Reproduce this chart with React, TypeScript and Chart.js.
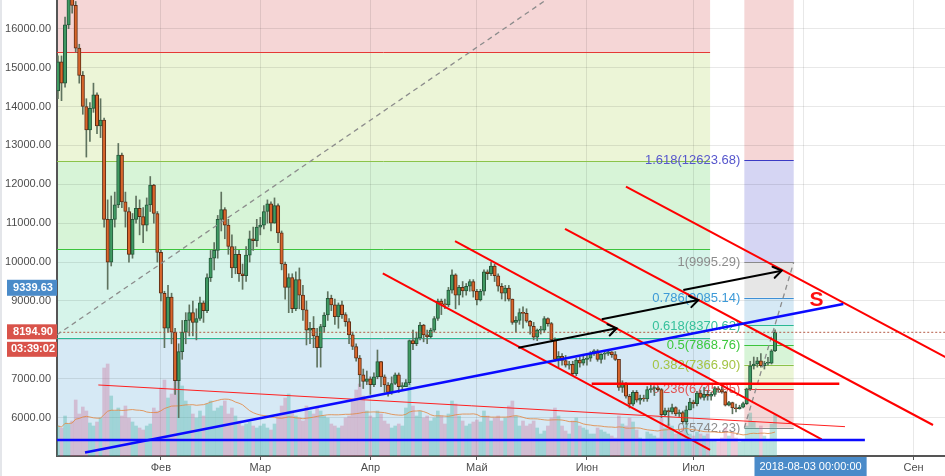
import React, { useEffect, useRef } from 'react';
import { Chart, registerables } from 'chart.js';

Chart.register(...registerables);
Chart.defaults.font.family = "'Liberation Sans', Arial, sans-serif";

// day index: 0 = 2018-01-01
const FIRST_DAY = 2;
const FIRST_OPEN = 14400;

const closes = [
  15150, 14600, 16100, 17000, 16600, 15500, 14800, 14000, 13400, 13950,
  14300, 13500, 13650, 11100, 10000, 11100, 11470, 12750, 11550, 11300,
  10200, 11100, 11380, 11170, 10950, 11470, 11980, 11250, 10250, 9200,
  8300, 9100, 8200, 6950, 7700, 8200, 8500, 8700, 8450, 8550,
  8950, 8750, 9600, 10100, 10300, 11100, 11350, 10950, 10400, 9850,
  10200, 9700, 9650, 10180, 10600, 10550, 10900, 10950, 11300, 11500,
  11000, 11450, 10750, 9950, 9350, 9600, 8800, 9550, 9150, 8770,
  8250, 8300, 8100, 7800, 8340, 8640, 9070, 8900, 8600, 8900,
  8650, 8470, 8130, 7830, 7530, 7100, 6930, 7000, 6850, 7050,
  7440, 7050, 6840, 6650, 6880, 7100, 6800, 6800, 6900, 7980,
  7900, 8050, 8380, 8130, 8080, 8250, 8550, 9000, 8920, 8900,
  9280, 9670, 9150, 9350, 9260, 9380, 9500, 9250, 9030, 9250,
  9750, 9700, 9900, 9650, 9380, 9200, 9330, 9050, 8450, 8500,
  8700, 8680, 8480, 8350, 8070, 8250, 8250, 8550, 8420, 8000,
  7500, 7580, 7470, 7350, 7370, 7130, 7480, 7400, 7500, 7530,
  7650, 7720, 7500, 7630, 7650, 7690, 7620, 7500, 6780, 6880,
  6550, 6350, 6650, 6450, 6500, 6480, 6720, 6750, 6770, 6720,
  6080, 6180, 6150, 6260, 6100, 6130, 5900, 6200, 6400, 6360,
  6630, 6520, 6600, 6550, 6600, 6750, 6720, 6660, 6320, 6390,
  6250, 6230, 6270, 6360, 6740, 7330, 7380, 7460, 7340, 7400,
  7400, 7720, 8195,
];

const highs = [
  15300, 15300, 16300, 17300, 17200, 16700, 15600, 14900, 14200, 14100,
  14600, 14350, 14200, 13700, 11600, 11700, 11800, 13050, 12800, 11800,
  11400, 11250, 11700, 11600, 11400, 11650, 12200, 12000, 11300, 10300,
  9250, 9400, 9200, 8300, 7900, 8500, 8700, 8900, 9000, 8800,
  9100, 9000, 9700, 10300, 10500, 11200, 11800, 11400, 11100, 10700,
  10400, 10300, 9950, 10400, 10800, 10900, 11100, 11150, 11450, 11600,
  11550, 11650, 11500, 10800, 10000, 9700, 9700, 9750, 9850, 9400,
  9000, 8450, 8600, 8300, 8400, 8700, 9240, 9150, 9050, 8950,
  9000, 8700, 8550, 8200, 7900, 7600, 7250, 7200, 7050, 7150,
  7740, 7450, 7100, 6900, 7050, 7150, 7150, 6900, 6980, 8000,
  8250, 8200, 8450, 8400, 8250, 8300, 8600, 9050, 9050, 9050,
  9350, 9800, 9700, 9400, 9500, 9450, 9550, 9550, 9300, 9300,
  9800, 9800, 10000, 9950, 9700, 9450, 9400, 9400, 9050, 8600,
  8800, 8850, 8800, 8500, 8450, 8280, 8350, 8600, 8570, 8450,
  8050, 7700, 7650, 7600, 7450, 7450, 7530, 7550, 7600, 7600,
  7700, 7750, 7750, 7650, 7700, 7750, 7700, 7700, 7500, 6950,
  6900, 6600, 6700, 6700, 6580, 6580, 6800, 6850, 6800, 6800,
  6750, 6250, 6250, 6350, 6280, 6200, 6170, 6300, 6500, 6450,
  6680, 6700, 6780, 6700, 6650, 6800, 6800, 6800, 6680, 6420,
  6400, 6350, 6320, 6400, 6760, 7450, 7560, 7550, 7650, 7450,
  7550, 7750, 8260,
];

const lows = [
  14200, 14150, 14500, 16000, 16400, 15400, 14600, 13800, 12700, 13100,
  13850, 13300, 13200, 10900, 9300, 9900, 10900, 11400, 11400, 10900,
  10000, 10100, 11000, 10700, 10500, 10800, 11300, 11000, 10000, 9000,
  7800, 8200, 7900, 6600, 6000, 7500, 7900, 8100, 8100, 8000,
  8500, 8450, 8700, 9500, 9800, 10100, 10800, 10600, 10200, 9600,
  9700, 9500, 9300, 9500, 10000, 10300, 10400, 10700, 10850, 11000,
  10800, 11000, 10500, 9800, 9050, 8700, 8700, 8750, 8800, 8500,
  7870, 7900, 7800, 7300, 7300, 8200, 8500, 8750, 8400, 8300,
  8550, 8350, 7900, 7750, 7450, 6800, 6750, 6850, 6600, 6800,
  7000, 6800, 6650, 6550, 6600, 6850, 6650, 6700, 6800, 6850,
  7750, 7850, 8000, 7950, 7900, 8050, 8200, 8500, 8650, 8800,
  8850, 9200, 8800, 8900, 9100, 9150, 9250, 9100, 8900, 9000,
  9150, 9550, 9650, 9500, 9250, 9050, 9000, 9000, 8400, 8200,
  8400, 8300, 8450, 8150, 8000, 7980, 8150, 8200, 8350, 7950,
  7450, 7300, 7350, 7300, 7250, 7100, 7080, 7300, 7350, 7350,
  7450, 7600, 7450, 7400, 7500, 7600, 7550, 7470, 6700, 6650,
  6500, 6250, 6300, 6400, 6350, 6420, 6420, 6650, 6570, 6680,
  6000, 6050, 5800, 6100, 6050, 6030, 5850, 5830, 6200, 6250,
  6300, 6480, 6450, 6450, 6450, 6550, 6650, 6630, 6300, 6300,
  6100, 6150, 6220, 6250, 6340, 6700, 7250, 7300, 7300, 7250,
  7350, 7380, 7700,
];

// volume, thousands
const volumesK = [
  30, 28, 40, 32, 35, 56, 42, 49, 45, 33, 30, 34, 38,
  88, 92, 60, 45, 48, 40, 50,
  38, 34, 30, 28, 26, 30, 32, 48, 45,
  68, 76, 58, 62, 91, 93,
  70, 55, 50, 42, 38, 45, 40, 52,
  55, 45, 48, 50, 55, 42, 48, 40, 35, 30, 32, 34, 30, 28,
  30, 32, 28, 26, 32, 40, 50, 58, 62, 45, 40, 38, 35, 50, 45,
  42, 48, 45, 40, 38, 32, 30, 28, 30, 38, 40, 55, 66, 72, 60, 45,
  40, 38, 45, 42, 35, 32, 28, 30, 32, 30, 48, 72, 50, 40, 45,
  38, 40, 35, 38, 45, 40, 32, 42, 55, 52, 40, 35, 30, 32, 34,
  36, 34, 45, 40, 35, 38, 40, 35, 38, 50, 55, 40, 30, 35, 30,
  32, 35, 28, 22, 25, 30, 38, 48, 40, 30, 25, 22, 35, 38, 30, 28,
  26, 22, 22, 28, 26, 24, 22, 20, 18, 40, 32, 30, 38, 34, 26,
  18, 16, 24, 22, 20, 18, 38, 28, 32, 30, 22, 24, 28, 34, 22,
  20, 24, 22, 20, 22, 16, 16, 14, 18, 28, 20, 24, 18, 14, 16,
  30, 43, 34, 28, 30, 20, 16, 32, 41,
];
const VOLUME_MA_LENGTH = 20;

const monthTickDays = [31, 59, 90, 120, 151, 181, 212, 243];
const monthTickLabels = ['Фев', 'Мар', 'Апр', 'Май', 'Июн', 'Июл', 'Авг', 'Сен'];
const priceTicks = [6000, 7000, 8000, 9000, 10000, 11000, 12000, 13000, 14000, 15000, 16000];
const hiddenPriceLabels = [8000]; // covered by the last-price tags

// Fibonacci retracements
const fibLevels = [0, 0.236, 0.382, 0.5, 0.618, 0.786, 1, 1.618, 2.618];
const fibLevelNames = ['0', '0.236', '0.382', '0.5', '0.618', '0.786', '1', '1.618', '2.618'];
const leftFib = { startDay: -40, endDay: 185.7, price0: 19924, price1: 724, levelCount: 6, labels: false };
const rightFib = { startDay: 195.35, endDay: 209.25, price0: 5742.23, price1: 9995.29, levelCount: 9, labels: true };

// drawings: [day, price] anchors
const redChannels = [
  [[93.5, 9712], [185.7, 5170]],
  [[113.85, 10542], [217.14, 5445]],
  [[144.83, 10851], [248.49, 5812]],
  [[162.0, 11938], [256.1, 7355]],
];
const redLevel = [[152.35, 6870], [222.1, 6870]];
const redThin = [[13.37, 6841], [223.7, 5769]];
const blueTrend = [[9.62, 5103], [223.23, 8923]];
const blueFloor = [[-10, 5427], [229.3, 5427]];
const blackArrows = [
  [[131.68, 7799], [159.39, 8298]],
  [[155.17, 8529], [182.38, 9026]],
  [[178.15, 9283], [205.87, 9779]],
];
const grayDashed = [[1.7, 8130], [154.7, 17690]];
const sLabel = { day: 215.68, price: 9013, text: 'S' };
const lastPrice = 8194.9;
const countdown = '03:39:02';
const crosshairPrice = 9339.63;
const crosshairDay = 214;
const crosshairDateText = '2018-08-03 00:00:00';

const X_MIN = 1.73;
const X_MAX = 251.87;
const Y_MIN = 5015;
const Y_MAX = 16738;
const VOL_MAX = 456;

const GRID = 'rgba(0,0,0,0.09)';
const fibBandColors = ['', '#f5d6d6', '#ecf5d7', '#d7f4d7', '#d6f4ea', '#d6e9f5', '#e6e6e6', '#d5d5f3', '#f5d6d6'];
const fibLineColors = ['#8a8a8a', '#e53935', '#8bc34a', '#3cc43c', '#2bb894', '#3d8fd6', '#8a8a8a', '#3b3bc4', '#e53935'];
const fibLabelColors = ['#8c8c8c', '#e05555', '#a3c444', '#3cc83c', '#36c09c', '#3d9ad8', '#8c8c8c', '#5555cc', '#e05555'];

export default function App() {
  const ref = useRef<HTMLCanvasElement>(null);

  useEffect(() => {
    const canvas = ref.current;
    if (!canvas) return;
    const opens = closes.map((c, i) => (i === 0 ? FIRST_OPEN : closes[i - 1]));
    const days = closes.map((_, i) => FIRST_DAY + i);
    const up = closes.map((c, i) => c >= opens[i]);

    const wickData = days.map((d, i) => ({ x: d, y: [lows[i], highs[i]] }));
    const bodyData = days.map((d, i) => ({ x: d, y: [opens[i], closes[i]] }));
    const volData = days.map((d, i) => ({ x: d, y: volumesK[i] }));
    const maData = days.map((d, i) => {
      const from = Math.max(0, i - VOLUME_MA_LENGTH + 1);
      let s = 0;
      for (let k = from; k <= i; k++) s += volumesK[k];
      return { x: d, y: s / (i - from + 1) };
    });

    const seg = (pts: number[][], color: string, width: number, order: number, dash: number[] = []) => ({
      type: 'line' as const,
      data: pts.map(([d, p]) => ({ x: d, y: p })),
      borderColor: color,
      borderWidth: width,
      borderDash: dash,
      pointRadius: 0,
      pointHoverRadius: 0,
      fill: false,
      tension: 0,
      order,
      yAxisID: 'y',
    });

    const overlay = {
      id: 'overlay',
      beforeDraw(chart: any) {
        const { ctx, chartArea: a, scales } = chart;
        const x = scales.x, y = scales.y;
        ctx.save();
        ctx.beginPath();
        ctx.rect(a.left, a.top, a.right - a.left, a.bottom - a.top);
        ctx.clip();
        for (const fib of [leftFib, rightFib]) {
          const x1 = x.getPixelForValue(fib.startDay);
          const x2 = x.getPixelForValue(fib.endDay);
          for (let i = 1; i < fib.levelCount; i++) {
            const pa = fib.price0 + fibLevels[i - 1] * (fib.price1 - fib.price0);
            const pb = fib.price0 + fibLevels[i] * (fib.price1 - fib.price0);
            const ya = y.getPixelForValue(pa);
            const yb = y.getPixelForValue(pb);
            ctx.fillStyle = fibBandColors[i];
            ctx.fillRect(x1, Math.min(ya, yb), x2 - x1, Math.abs(yb - ya));
          }
        }
        ctx.restore();
      },
      beforeDatasetsDraw(chart: any) {
        const { ctx, chartArea: a, scales } = chart;
        const x = scales.x, y = scales.y;
        ctx.save();
        ctx.beginPath();
        ctx.rect(a.left, a.top, a.right - a.left, a.bottom - a.top);
        ctx.clip();
        for (const fib of [leftFib, rightFib]) {
          const x1 = x.getPixelForValue(fib.startDay);
          const x2 = x.getPixelForValue(fib.endDay);
          for (let i = 0; i < fib.levelCount; i++) {
            const p = fib.price0 + fibLevels[i] * (fib.price1 - fib.price0);
            const py = y.getPixelForValue(p);
            if (py < a.top - 2 || py > a.bottom + 2) continue;
            const yy = Math.round(py) + 0.5;
            ctx.strokeStyle = fibLineColors[i];
            ctx.lineWidth = 1;
            ctx.beginPath();
            ctx.moveTo(Math.max(x1, a.left), yy);
            ctx.lineTo(x2, yy);
            ctx.stroke();
            if (fib.labels) {
              ctx.fillStyle = fibLabelColors[i];
              ctx.font = "13px 'Liberation Sans', Arial, sans-serif";
              ctx.textAlign = 'right';
              ctx.textBaseline = 'middle';
              ctx.fillText(`${fibLevelNames[i]}(${p.toFixed(2)})`, x1 - 4, py + 0.5);
            }
          }
        }
        ctx.restore();
      },
      afterDatasetsDraw(chart: any) {
        const { ctx, chartArea: a, scales } = chart;
        const x = scales.x, y = scales.y;
        ctx.save();
        ctx.beginPath();
        ctx.rect(a.left, a.top, a.right - a.left, a.bottom - a.top);
        ctx.clip();
        ctx.strokeStyle = '#000';
        ctx.lineWidth = 2;
        ctx.lineCap = 'round';
        for (const arr of blackArrows) {
          const sx = x.getPixelForValue(arr[0][0]), sy = y.getPixelForValue(arr[0][1]);
          const ex = x.getPixelForValue(arr[1][0]), ey = y.getPixelForValue(arr[1][1]);
          const ang = Math.atan2(ey - sy, ex - sx);
          const L = 10, spread = 0.6;
          ctx.beginPath();
          ctx.moveTo(ex - L * Math.cos(ang - spread), ey - L * Math.sin(ang - spread));
          ctx.lineTo(ex, ey);
          ctx.lineTo(ex - L * Math.cos(ang + spread), ey - L * Math.sin(ang + spread));
          ctx.stroke();
        }
        ctx.fillStyle = '#ff1010';
        ctx.font = "bold 21px 'Liberation Sans', Arial, sans-serif";
        ctx.textAlign = 'center';
        ctx.textBaseline = 'middle';
        ctx.fillText(sLabel.text, x.getPixelForValue(sLabel.day), y.getPixelForValue(sLabel.price));
        ctx.restore();
      },
      afterDraw(chart: any) {
        const { ctx, chartArea: a, scales } = chart;
        const x = scales.x, y = scales.y;
        ctx.save();
        ctx.fillStyle = '#e4e6ea';
        ctx.fillRect(0, 0, 2, chart.height);
        const boxL = 7, boxR = a.left;
        const cx = (boxL + boxR) / 2 + 1;
        ctx.font = "bold 11px 'Liberation Sans', Arial, sans-serif";
        ctx.textAlign = 'center';
        ctx.textBaseline = 'middle';
        // crosshair price
        const cp = y.getPixelForValue(crosshairPrice);
        ctx.fillStyle = '#4a8bc9';
        ctx.fillRect(boxL, cp - 8, boxR - boxL, 16);
        ctx.fillStyle = '#fff';
        ctx.fillText(crosshairPrice.toFixed(2), cx, cp + 0.5);
        // last price + countdown
        const lp = y.getPixelForValue(lastPrice);
        ctx.fillStyle = '#d9534a';
        ctx.fillRect(boxL, lp - 8, boxR - boxL, 15);
        ctx.fillRect(boxL, lp + 9.5, boxR - boxL, 15);
        ctx.fillStyle = '#fff';
        ctx.fillText(lastPrice.toFixed(2), cx, lp - 0.5);
        ctx.fillText(countdown, cx, lp + 17);
        // crosshair date
        const dx = x.getPixelForValue(crosshairDay);
        ctx.font = "11px 'Liberation Sans', Arial, sans-serif";
        const tw = ctx.measureText(crosshairDateText).width;
        ctx.fillStyle = '#4a8bc9';
        ctx.fillRect(dx - tw / 2 - 5, a.bottom + 1, tw + 10, 20);
        ctx.fillStyle = '#fff';
        ctx.fillText(crosshairDateText, dx, a.bottom + 11);
        ctx.restore();
      },
    };

    const chart = new Chart(canvas, {
      type: 'bar',
      data: {
        datasets: [
          seg(blackArrows[0], '#000000', 2, 10),
          seg(blackArrows[1], '#000000', 2, 10),
          seg(blackArrows[2], '#000000', 2, 10),
          seg(blueTrend, '#0a0aff', 2.6, 11),
          seg(blueFloor, '#0a0aff', 2.6, 11),
          ...redChannels.map((c) => seg(c, '#ff0000', 2, 12)),
          seg(redLevel, '#ff0000', 2.5, 12),
          seg(grayDashed, '#8c8c8c', 1.3, 13, [5, 4]),
          seg([[rightFib.startDay, rightFib.price0], [rightFib.endDay, rightFib.price1]], '#8c8c8c', 1.3, 13, [5, 4]),
          seg([[X_MIN - 5, lastPrice], [X_MAX + 5, lastPrice]], '#b55a46', 1, 14, [2, 2]),
          seg(redThin, '#ff2020', 1, 15),
          {
            type: 'bar' as const,
            data: bodyData as any,
            backgroundColor: up.map((u) => (u ? '#3f9a62' : '#d9652b')),
            borderColor: up.map((u) => (u ? '#24573a' : '#5e2c14')),
            borderWidth: 1,
            borderSkipped: false,
            barThickness: 3.4,
            minBarLength: 1,
            grouped: false,
            order: 30,
            yAxisID: 'y',
          },
          {
            type: 'bar' as const,
            data: wickData as any,
            backgroundColor: '#5f735f',
            borderWidth: 0,
            barThickness: 1,
            grouped: false,
            order: 31,
            yAxisID: 'y',
          },
          {
            type: 'line' as const,
            data: maData,
            borderColor: 'rgba(226,138,70,0.85)',
            borderWidth: 1,
            pointRadius: 0,
            pointHoverRadius: 0,
            tension: 0,
            fill: false,
            order: 35,
            yAxisID: 'yVol',
          },
          {
            type: 'bar' as const,
            data: volData as any,
            backgroundColor: up.map((u) => (u ? 'rgba(60,176,160,0.35)' : 'rgba(200,110,150,0.35)')),
            borderWidth: 0,
            barThickness: 3,
            grouped: false,
            order: 40,
            yAxisID: 'yVol',
          },
        ] as any,
      },
      options: {
        animation: false,
        responsive: false,
        devicePixelRatio: 1,
        events: [],
        layout: { padding: 0 },
        plugins: { legend: { display: false }, tooltip: { enabled: false } },
        scales: {
          x: {
            type: 'linear',
            min: X_MIN,
            max: X_MAX,
            offset: false,
            grid: { offset: false, color: GRID, lineWidth: 1, drawTicks: true, tickLength: 4, tickColor: '#555' },
            border: { color: '#555', width: 2 },
            ticks: {
              autoSkip: false,
              maxRotation: 0,
              padding: 1,
              color: '#4d4d4d',
              font: { size: 11 },
              callback: (_v: any, i: number) => monthTickLabels[i] ?? '',
            },
            afterBuildTicks: (s: any) => {
              s.ticks = monthTickDays.map((v) => ({ value: v }));
            },
            afterFit: (s: any) => {
              s.height = 20;
              s.paddingLeft = 0;
              s.paddingRight = 0;
            },
          },
          y: {
            type: 'linear',
            position: 'left',
            min: Y_MIN,
            max: Y_MAX,
            grid: { offset: false, color: GRID, lineWidth: 1, drawTicks: false },
            border: { color: '#555', width: 2 },
            ticks: {
              padding: 6,
              color: '#4d4d4d',
              font: { size: 11 },
              callback: (v: any) => (hiddenPriceLabels.includes(Number(v)) ? '' : Number(v).toFixed(2)),
            },
            afterBuildTicks: (s: any) => {
              s.ticks = priceTicks.map((v) => ({ value: v }));
            },
            afterFit: (s: any) => {
              s.width = 57;
              s.paddingTop = 0;
              s.paddingBottom = 0;
            },
          },
          yVol: { type: 'linear', display: false, min: 0, max: VOL_MAX },
        },
      } as any,
      plugins: [overlay],
    });

    return () => chart.destroy();
  }, []);

  return (
    <div style={{ position: 'absolute', left: 0, top: 0, width: 945, height: 476, background: '#fff' }}>
      <canvas ref={ref} width={945} height={476} style={{ display: 'block' }} />
    </div>
  );
}
